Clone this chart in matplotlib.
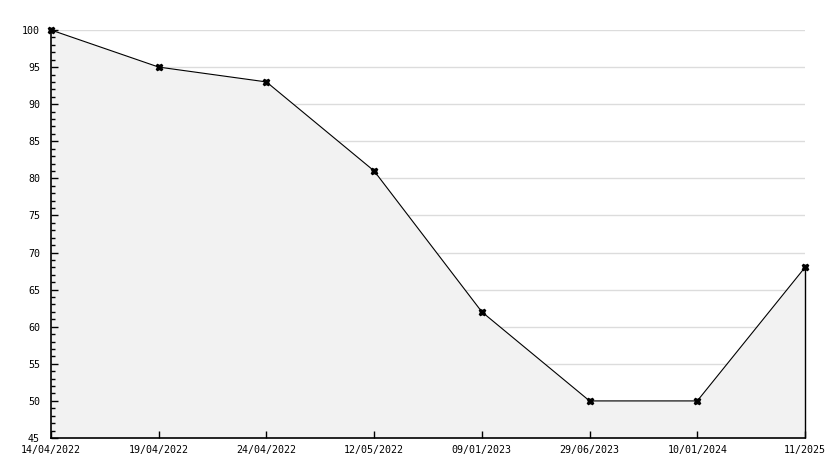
import matplotlib
matplotlib.use('Agg')
import matplotlib.pyplot as plt
from matplotlib.ticker import MultipleLocator

dates = ["14/04/2022", "19/04/2022", "24/04/2022", "12/05/2022",
         "09/01/2023", "29/06/2023", "10/01/2024", "11/2025"]
values = [100, 95, 93, 81, 62, 50, 50, 68]
ymin, ymax = 45, 100

plt.rcParams['font.family'] = 'DejaVu Sans Mono'
plt.rcParams['font.size'] = 7.2

fig = plt.figure(figsize=(8.34, 4.68), dpi=100)
ax = fig.add_axes([51/834, 30/468, 754/834, 408/468])

x = list(range(len(dates)))
# grid sits under the fill, ticks sit on top of it
for yv in range(ymin + 5, ymax + 1, 5):
    ax.axhline(yv, color='#dcdcdc', linewidth=1, zorder=0)
ax.fill_between(x, values, ymin, color='#f2f2f2', linewidth=0, zorder=1)
ax.vlines(x[-1], ymin, values[-1], color='black', linewidth=1, zorder=2, clip_on=False)
ax.plot(x, values, color='black', linewidth=0.8, marker='X', markersize=4.5,
        zorder=5, clip_on=False)

ax.set_xlim(0, len(dates) - 1)
ax.set_ylim(ymin, ymax)
ax.set_xticks(x)
ax.set_xticklabels(dates)
ax.yaxis.set_major_locator(MultipleLocator(5))
ax.yaxis.set_minor_locator(MultipleLocator(1))

for s in ['top', 'right']:
    ax.spines[s].set_visible(False)
for s in ['left', 'bottom']:
    ax.spines[s].set_linewidth(1.2)
    ax.spines[s].set_zorder(4)

ax.tick_params(axis='y', which='major', direction='in', length=5, width=1, pad=8)
ax.tick_params(axis='y', which='minor', direction='in', length=3, width=1)
ax.tick_params(axis='x', direction='in', length=5, width=1, pad=5)

fig.savefig('out.png', dpi=100)
